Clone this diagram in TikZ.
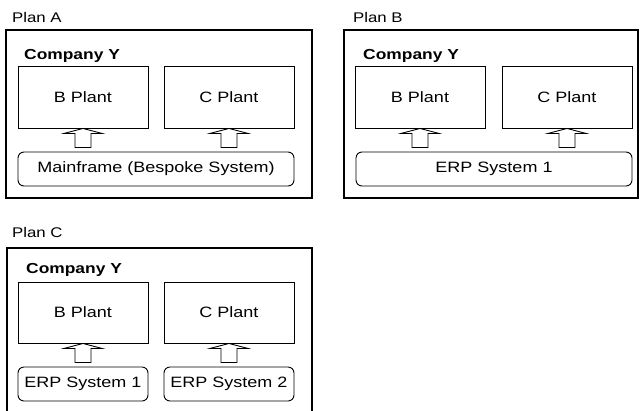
\documentclass[tikz,border=0pt]{standalone}
\usepackage{fontspec}
\setmainfont{Liberation Sans}[FakeStretch=1.2]

\newcommand\feedarrow[1]{%
  \draw[line width=.9pt] (#1.south) -- ++(-19,5) -- ++(11,0) -- ++(0,14)
    -- ++(16,0) -- ++(0,-14) -- ++(11,0) -- cycle;}

\begin{document}
\begin{tikzpicture}[x=1pt,y=-1pt,
  frame/.style={draw,line width=1.3pt,inner sep=0pt},
  plant/.style={draw,line width=.9pt,minimum width=130pt,minimum height=62pt,inner sep=0pt},
  sys/.style={draw,line width=.9pt,rounded corners=6pt,minimum height=34pt,inner sep=0pt},
  plan/.style={anchor=base west,inner sep=0pt,font=\fontsize{14}{16}\selectfont},
  company/.style={anchor=base west,inner sep=0pt,font=\fontsize{14.5}{16}\selectfont\bfseries},
  every node/.append style={font=\fontsize{15}{17}\selectfont}]
  \useasboundingbox (0,0) rectangle (644,410);

  % Plan A
  \node[plan] (labA) at (12,22) {Plan A};
  \node[frame,minimum width=306pt,minimum height=168pt] (planA) at (159,114) {};
  \node[company] (compA) at (24,59) {Company Y};
  \node[plant] (bA) at (83,97) {B Plant};
  \node[plant] (cA) at (229,97) {C Plant};
  \node[sys,minimum width=276pt] (mfA) at (156,169) {Mainframe (Bespoke System)};

  % Plan B
  \node[plan] (labB) at (353,22) {Plan B};
  \node[frame,minimum width=294pt,minimum height=168pt] (planB) at (491,114) {};
  \node[company] (compB) at (363,59) {Company Y};
  \node[plant] (bB) at (420,97) {B Plant};
  \node[plant] (cB) at (567,97) {C Plant};
  \node[sys,minimum width=276pt] (erpB) at (494,169) {ERP System 1};

  % Plan C
  \node[plan] (labC) at (12,237) {Plan C};
  \node[frame,minimum width=305pt,minimum height=182pt] (planC) at (159.5,339) {};
  \node[company] (compC) at (26,273) {Company Y};
  \node[plant,minimum height=61pt] (bC) at (83,312.5) {B Plant};
  \node[plant,minimum height=61pt] (cC) at (229,312.5) {C Plant};
  \node[sys,minimum width=130pt] (erpC1) at (83,384) {ERP System 1};
  \node[sys,minimum width=130pt] (erpC2) at (229,384) {ERP System 2};

  \foreach \p in {bA,cA,bB,cB,bC,cC}
    \feedarrow{\p};
\end{tikzpicture}
\end{document}
